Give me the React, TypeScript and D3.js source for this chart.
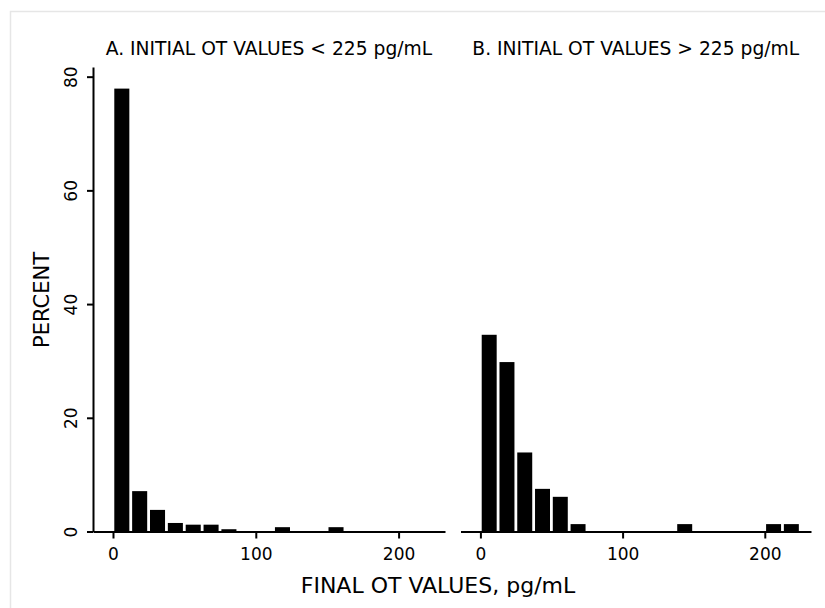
import { useEffect, useRef } from 'react'
import * as d3 from 'd3'

// histogram bins (lower edges, pg/mL), width 12.5
const binStarts = [0, 12.5, 25, 37.5, 50, 62.5, 75, 87.5, 100, 112.5, 125, 137.5, 150, 162.5, 175, 187.5, 200, 212.5]
const binWidth = 12.5

// percent of subjects per bin
const pctLow = [77.9, 7.1, 3.8, 1.5, 1.2, 1.2, 0.4, 0, 0, 0.76, 0, 0, 0.76, 0, 0, 0, 0, 0]
const pctHigh = [34.6, 29.8, 13.9, 7.5, 6.1, 1.3, 0, 0, 0, 0, 0, 1.3, 0, 0, 0, 0, 1.3, 1.3]

const panelTitles = ['A. INITIAL OT VALUES < 225 pg/mL', 'B. INITIAL OT VALUES > 225 pg/mL']
const xTicks = [0, 100, 200]
const yTicks = [0, 20, 40, 60, 80]

const FONT = '"DejaVu Sans", sans-serif'

export default function App() {
  const svgRef = useRef<SVGSVGElement>(null)

  useEffect(() => {
    if (!svgRef.current) return
    const width = 825
    const height = 608
    const svg = d3.select(svgRef.current)
    svg.selectAll('*').remove()
    svg.attr('width', width).attr('height', height)

    svg.append('rect').attr('width', width).attr('height', height).attr('fill', '#fff')
    // outer frame (only top/left visible)
    svg.append('rect')
      .attr('x', 10.5).attr('y', 11.5)
      .attr('width', 830).attr('height', 610)
      .attr('fill', 'none').attr('stroke', '#e6e6e6').attr('stroke-width', 1.5)

    const y = d3.scaleLinear().domain([0, 81.7]).range([531.5, 67])
    const panels = [
      { data: pctLow, range: [93, 445] as [number, number], title: panelTitles[0] },
      { data: pctHigh, range: [460.5, 811] as [number, number], title: panelTitles[1] },
    ]

    panels.forEach((p, i) => {
      const x = d3.scaleLinear().domain([-14, 232.5]).range(p.range)
      const g = svg.append('g')

      g.selectAll('rect.bar')
        .data(p.data.map((v, k) => ({ lo: binStarts[k], v })).filter((d) => d.v > 0))
        .join('rect')
        .attr('class', 'bar')
        .attr('x', (d) => x(d.lo) + 1.3)
        .attr('width', (d) => x(d.lo + binWidth) - x(d.lo) - 2.8)
        .attr('y', (d) => y(d.v))
        .attr('height', (d) => y(0) - y(d.v))
        .attr('fill', '#000')

      const xAxis = g.append('g')
        .attr('transform', `translate(0,${y(0)})`)
        .call(d3.axisBottom(x).tickValues(xTicks).tickSize(7).tickSizeOuter(0).tickFormat((d) => `${d}`))
      xAxis.select('.domain').attr('stroke', '#000').attr('stroke-width', 2)
      xAxis.selectAll('.tick line').attr('stroke', '#000').attr('stroke-width', 2)
      xAxis.selectAll('text')
        .attr('y', 28.5).attr('dy', 0)
        .attr('fill', '#000')
        .attr('font-size', 17)
        .attr('font-family', FONT)

      if (i === 0) {
        const yAxis = g.append('g')
          .attr('transform', `translate(${p.range[0]},0)`)
          .call(d3.axisLeft(y).tickValues(yTicks).tickSize(6).tickSizeOuter(0))
        yAxis.select('.domain').attr('stroke', '#000').attr('stroke-width', 2)
        yAxis.selectAll('.tick line').attr('stroke', '#000').attr('stroke-width', 2)
        yAxis.selectAll('text')
          .attr('transform', 'rotate(-90)')
          .attr('x', 0).attr('y', -16).attr('dy', 0)
          .attr('text-anchor', 'middle')
          .attr('fill', '#000')
          .attr('font-size', 17)
          .attr('font-family', FONT)
      }

      svg.append('text')
        .attr('x', (p.range[0] + p.range[1]) / 2).attr('y', 55)
        .attr('text-anchor', 'middle')
        .attr('fill', '#000')
        .attr('font-size', 18.7)
        .attr('font-family', FONT)
        .text(p.title)
    })

    svg.append('text')
      .attr('transform', 'translate(48.5,300) rotate(-90)')
      .attr('text-anchor', 'middle')
      .attr('fill', '#000')
      .attr('font-size', 21)
      .attr('font-family', FONT)
      .text('PERCENT')

    svg.append('text')
      .attr('x', 438).attr('y', 593)
      .attr('text-anchor', 'middle')
      .attr('fill', '#000')
      .attr('font-size', 22)
      .attr('font-family', FONT)
      .text('FINAL OT VALUES, pg/mL')
  }, [])

  return (
    <div style={{ position: 'absolute', left: 0, top: 0 }}>
      <svg ref={svgRef} style={{ display: 'block' }} />
    </div>
  )
}
